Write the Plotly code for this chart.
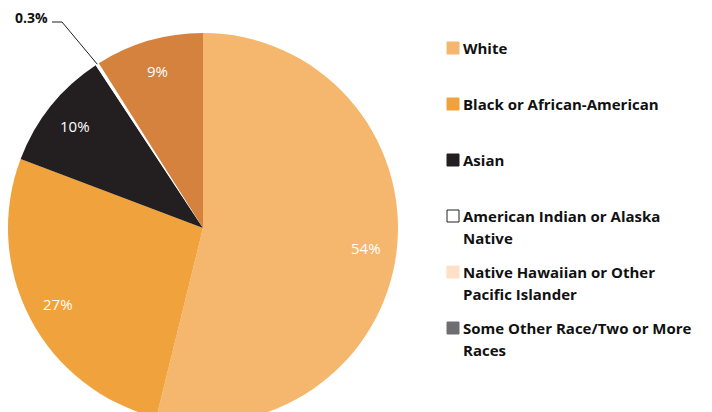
import math
import plotly.graph_objects as go

# slices in drawing order (clockwise from 12 o'clock)
labels = [
    "White",
    "Black or African-American",
    "Asian",
    "American Indian or Alaska<br>Native",
    "Native Hawaiian or Other<br>Pacific Islander",
    "Some Other Race/Two or More<br>Races",
]
values = [54, 27, 10, 0.3, 0, 9]
slice_colors = ["#F5B76D", "#F0A33C", "#231F20", "#FFFFFF", "#FDE0C5", "#D5823F"]
legend_colors = ["#F5B76D", "#F0A33C", "#231F20", "#FFFFFF", "#FDE0C5", "#6D6E71"]

W, H = 712, 415
OFF = 8  # page body margin around the plot div
FONT = "Open Sans"


def px(x):
    return (x - OFF) / W


def py(y):
    return 1 - (y - OFF) / H


# pie geometry (screen pixels)
cx, cy, r = 203, 228, 195

fig = go.Figure()
fig.add_trace(go.Pie(
    labels=labels,
    values=values,
    sort=False,
    direction="clockwise",
    rotation=0,
    marker=dict(colors=slice_colors, line=dict(width=0)),
    textinfo="none",
    domain=dict(x=[px(cx - r), px(cx + r)], y=[0, 2 * r / H]),
    showlegend=False,
    hoverinfo="label+percent",
))

shapes = []
annotations = []

# percentage labels placed along each slice's mid-angle
total = sum(values)
acc = 0
mids = []
for v in values:
    mids.append((acc + v / 2) / total * 2 * math.pi)
    acc += v
for v, th in zip(values, mids):
    if v < 1:
        continue
    annotations.append(dict(
        x=px(cx + 0.84 * r * math.sin(th)), y=py(cy - 0.84 * r * math.cos(th)),
        xref="paper", yref="paper", text=f"{v:g}%", showarrow=False,
        xanchor="center", yanchor="middle",
        font=dict(family=FONT, size=15, color="white"),
    ))

# small-slice callout with an elbow leader line
th = mids[3]
tip_x = cx + r * math.sin(th)
tip_y = cy - r * math.cos(th)
path = f"M {px(52)} {py(22)} L {px(62)} {py(22)} L {px(tip_x)} {py(tip_y)}"
shapes.append(dict(type="path", xref="paper", yref="paper", path=path,
                   line=dict(color="#231F20", width=1)))
annotations.append(dict(
    x=px(50), y=py(17), xref="paper", yref="paper",
    text=f"{values[3]:g}%", showarrow=False, xanchor="right", yanchor="middle",
    font=dict(family=FONT, size=14, color="#111111", weight=700),
))

# hand-made legend (entries spaced evenly, as in the original)
top, step = 48, 56
for i, (lab, col) in enumerate(zip(labels, legend_colors)):
    yc = top + i * step
    shapes.append(dict(
        type="rect", xref="paper", yref="paper",
        x0=px(447), x1=px(459), y0=py(yc - 6), y1=py(yc + 6),
        fillcolor=col, line=dict(color="#231F20" if col == "#FFFFFF" else col, width=1),
    ))
    for j, line in enumerate(lab.split("<br>")):
        annotations.append(dict(
            x=px(461), y=py(yc + j * 22), xref="paper", yref="paper",
            text=line, showarrow=False, xanchor="left", yanchor="middle",
            font=dict(family=FONT, size=15, color="#111111", weight=700),
        ))

fig.update_layout(
    width=W,
    height=H,
    margin=dict(l=0, r=0, t=0, b=0),
    paper_bgcolor="white",
    plot_bgcolor="white",
    shapes=shapes,
    annotations=annotations,
)

fig.write_html("out.html")
